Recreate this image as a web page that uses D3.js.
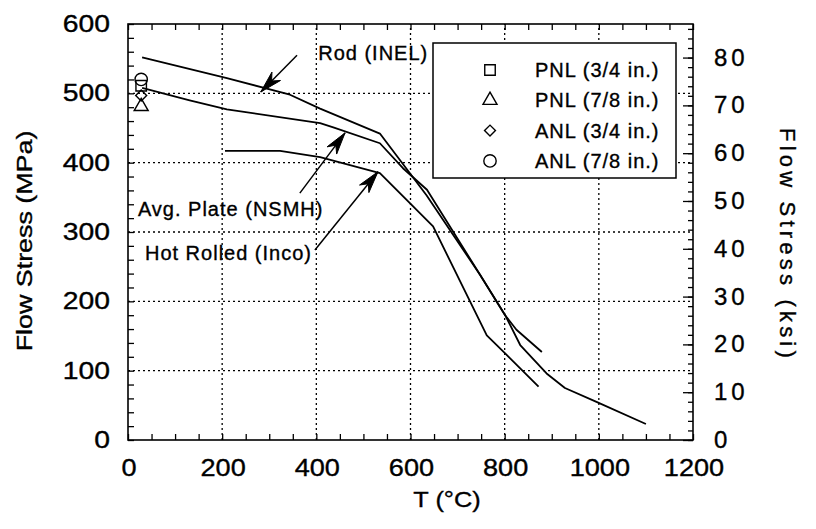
<!DOCTYPE html>
<html>
<head>
<meta charset="utf-8">
<script src="https://cdn.jsdelivr.net/npm/d3@7"></script>
<style>
  body { margin: 0; background: #fff; }
  svg { font-family: "Liberation Sans", Arial, Helvetica, sans-serif; }
  text { fill: #000; stroke: #000; stroke-width: 0.35; }
</style>
</head>
<body>
<svg id="chart" width="816" height="529"></svg>
<script>
// curves (T in °C, flow stress in MPa)
const rodT = [30, 210, 344, 408, 535, 634, 748, 801, 825, 879];
const rodS = [552, 522, 498, 478, 442, 353, 238, 180, 159, 127];
const plateT = [30, 131, 210, 408, 436, 535, 584, 635, 748, 801, 833, 889, 928, 995, 1100];
const plateS = [508, 490, 477, 457, 451, 428, 392, 361, 238, 180, 137, 96, 75, 55, 23];
const hotT = [206, 323, 408, 535, 648, 762, 801, 872];
const hotS = [417, 417, 408, 385, 308, 151, 125, 77];

// test points near room temperature
const pointNames = ["PNL (3/4 in.)", "PNL (7/8 in.)", "ANL (3/4 in.)", "ANL (7/8 in.)"];
const pointShapes = ["square", "triangle", "diamond", "circle"];
const pointT = [28, 28, 28, 28];
const pointS = [511, 481, 497, 520];

// annotations: label, arrow tail, arrow tip (data coords)
const noteLabels = ["Rod (INEL)", "Avg. Plate (NSMH)", "Hot Rolled (Inco)"];
const noteLabelAt = [[404, 558], [21, 333], [36, 270]];
const noteTail = [[359, 555], [365, 356], [397, 274]];
const noteTip = [[282, 502], [461, 443], [531, 387]];

const xTicks = [0, 200, 400, 600, 800, 1000, 1200];
const yTicks = [0, 100, 200, 300, 400, 500, 600];
const ksiTicks = [0, 10, 20, 30, 40, 50, 60, 70, 80];
const MPA_PER_KSI = 6.89476;

const svg = d3.select("#chart");
const x = d3.scaleLinear().domain([0, 1200]).range([128, 693]);
const y = d3.scaleLinear().domain([0, 600]).range([440, 24]);
const yk = d3.scaleLinear().domain([0, 600 / MPA_PER_KSI]).range([440, 24]);

// the original font is wider than Helvetica/Arial, so widen the glyphs a bit
function stretch(sel, k) {
  sel.each(function () {
    const w = this.getComputedTextLength();
    d3.select(this).attr("textLength", w * k).attr("lengthAdjust", "spacingAndGlyphs");
  });
}

// grid
const grid = svg.append("g").attr("stroke", "#000").attr("stroke-width", 1.3)
  .attr("stroke-dasharray", "2,3");
xTicks.slice(1, -1).forEach(v => {
  grid.append("line").attr("x1", x(v)).attr("x2", x(v)).attr("y1", y(0)).attr("y2", y(600));
});
yTicks.slice(1, -1).forEach(v => {
  grid.append("line").attr("x1", x(0)).attr("x2", x(1200)).attr("y1", y(v)).attr("y2", y(v));
});

// axes (ticks point inward)
const axisStyle = g => {
  g.select(".domain").remove();
  g.selectAll("line").attr("stroke", "#000").attr("stroke-width", 1.3);
  g.selectAll("text").remove();
};
svg.append("g").attr("transform", `translate(0,${y(0)})`)
  .call(d3.axisTop(x).tickValues(d3.range(0, 1201, 50)).tickSize(6)).call(axisStyle);
svg.append("g").attr("transform", `translate(0,${y(600)})`)
  .call(d3.axisBottom(x).tickValues(d3.range(0, 1201, 50)).tickSize(6)).call(axisStyle);
svg.append("g").attr("transform", `translate(${x(0)},0)`)
  .call(d3.axisRight(y).tickValues(d3.range(0, 601, 20)).tickSize(6)).call(axisStyle);
svg.append("g").attr("transform", `translate(${x(1200)},0)`)
  .call(d3.axisLeft(yk).tickValues(d3.range(0, 87, 2)).tickSize(5)).call(axisStyle);
svg.append("g").attr("transform", `translate(${x(1200)},0)`)
  .call(d3.axisLeft(yk).tickValues(ksiTicks).tickSize(10)).call(axisStyle);

svg.append("rect").attr("x", x(0)).attr("y", y(600))
  .attr("width", x(1200) - x(0)).attr("height", y(0) - y(600))
  .attr("fill", "none").attr("stroke", "#000").attr("stroke-width", 1.6);

// tick labels
svg.append("g").selectAll("text").data(xTicks).join("text")
  .attr("x", d => x(d) + 1).attr("y", 476)
  .attr("text-anchor", "middle").attr("font-size", 24)
  .text(d => d).call(stretch, 1.13);
svg.append("g").selectAll("text").data(yTicks).join("text")
  .attr("x", 110).attr("y", d => y(d) + 8)
  .attr("text-anchor", "end").attr("font-size", 24)
  .text(d => d).call(stretch, 1.18);
svg.append("g").selectAll("text").data(ksiTicks).join("text")
  .attr("x", 714).attr("y", d => yk(d) + 8)
  .attr("text-anchor", "start").attr("font-size", 24).attr("letter-spacing", 4)
  .text(d => d);

// axis titles
svg.append("text").attr("transform", "translate(32,241) rotate(-90)")
  .attr("text-anchor", "middle").attr("font-size", 22)
  .text("Flow Stress (MPa)").call(stretch, 1.22);
svg.append("text").attr("transform", "translate(780,245) rotate(90)")
  .attr("text-anchor", "middle").attr("font-size", 22).attr("letter-spacing", 4.2)
  .text("Flow Stress (ksi)");
svg.append("text").attr("x", 447).attr("y", 507)
  .attr("text-anchor", "middle").attr("font-size", 22)
  .text("T (°C)").call(stretch, 1.15);

// curves
const line = d3.line().x(d => x(d[0])).y(d => y(d[1]));
[[rodT, rodS], [plateT, plateS], [hotT, hotS]].forEach(([ts, ss]) => {
  svg.append("path").datum(d3.zip(ts, ss)).attr("d", line)
    .attr("fill", "none").attr("stroke", "#000").attr("stroke-width", 1.8)
    .attr("stroke-linejoin", "round");
});

// markers
const symbols = {
  square: d3.symbolSquare, triangle: d3.symbolTriangle,
  diamond: d3.symbolSquare, circle: d3.symbolCircle
};
const symbolSize = { square: 110, triangle: 85, diamond: 60, circle: 120 };
function marker(g, shape, cx, cy) {
  const rot = shape === "diamond" ? " rotate(45)" : "";
  g.append("path")
    .attr("d", d3.symbol(symbols[shape], symbolSize[shape])())
    .attr("transform", `translate(${cx},${cy})${rot}`)
    .attr("fill", "none").attr("stroke", "#000").attr("stroke-width", 1.4);
}
pointShapes.forEach((s, i) => marker(svg, s, x(pointT[i]), y(pointS[i])));

// annotations with arrows
noteLabels.forEach((txt, i) => {
  const [lx, ly] = noteLabelAt[i];
  svg.append("text").attr("x", x(lx)).attr("y", y(ly) + 7)
    .attr("font-size", 20).attr("letter-spacing", 1).text(txt);
  const x0 = x(noteTail[i][0]), y0 = y(noteTail[i][1]);
  const x1 = x(noteTip[i][0]), y1 = y(noteTip[i][1]);
  svg.append("line").attr("x1", x0).attr("y1", y0).attr("x2", x1).attr("y2", y1)
    .attr("stroke", "#000").attr("stroke-width", 1.5);
  const a = Math.atan2(y1 - y0, x1 - x0);
  const len = 22, half = 6;
  const bx = x1 - len * Math.cos(a), by = y1 - len * Math.sin(a);
  const nx = x1 - len * 0.7 * Math.cos(a), ny = y1 - len * 0.7 * Math.sin(a);
  const px = -Math.sin(a) * half, py = Math.cos(a) * half;
  svg.append("path")
    .attr("d", `M${x1},${y1} L${bx + px},${by + py} L${nx},${ny} L${bx - px},${by - py} Z`)
    .attr("fill", "#000").attr("stroke", "#000").attr("stroke-width", 1);
});

// legend
const legend = svg.append("g");
legend.append("rect").attr("x", 433).attr("y", 43).attr("width", 243).attr("height", 135)
  .attr("fill", "#fff").attr("stroke", "#000").attr("stroke-width", 1.5);
pointNames.forEach((name, i) => {
  const ry = 70 + i * 30.3;
  marker(legend, pointShapes[i], 490, ry);
  legend.append("text").attr("x", 535).attr("y", ry + 7)
    .attr("font-size", 20).attr("letter-spacing", 1).text(name);
});
</script>
</body>
</html>
